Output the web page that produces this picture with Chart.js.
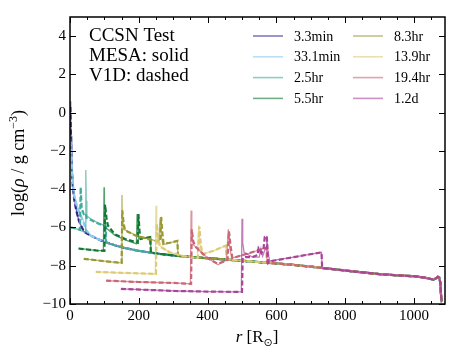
<!DOCTYPE html>
<html><head><meta charset="utf-8">
<script src="https://cdn.jsdelivr.net/npm/chart.js@4"></script>
<style>html,body{margin:0;padding:0;background:#fff}#wrap{width:468px;height:351px}</style>
</head><body><div id="wrap"><canvas id="c" width="468" height="351"></canvas></div>
<script>
// ---------------- data ----------------
const timeLabels = ['3.3min','33.1min','2.5hr','5.5hr','8.3hr','13.9hr','19.4hr','1.2d'];
const xTicks = [0,200,400,600,800,1000];
const yTicks = [-10,-8,-6,-4,-2,0,2,4];

// unshocked envelope (shared outer part of every profile): r [Rsun], log rho
const envR   = [46,60,80,100,130,160,200,250,300,350,400,450,500,550,600,650,700,750,800,850,900,950,1000,1030,1056,1064,1069,1073,1076,1078,1080];
const envRho = [-6.28,-6.42,-6.6,-6.75,-6.93,-7.08,-7.22,-7.36,-7.46,-7.54,-7.61,-7.67,-7.74,-7.81,-7.88,-7.96,-8.05,-8.15,-8.25,-8.35,-8.44,-8.5,-8.55,-8.62,-8.72,-8.66,-8.58,-8.62,-8.85,-9.4,-9.9];

// inner (shocked) parts, [r, log rho]
const mesa_3_3min = [[1,0.6],[2,-0.2],[3,-1.2],[5,-2.6],[8,-3.7],[12,-4.45],[18,-5.05],[25,-5.6],[33,-5.95],[40,-6.2]];
const v1d_3_3min  = [[1,0.3],[2,-0.6],[3,-1.5],[5,-2.8],[8,-3.8],[12,-4.5],[18,-5.1],[26,-5.65],[34,-5.98],[40,-6.2]];
const mesa_33_1min = [[1,-1.3],[3,-1.7],[5,-2.6],[8,-3.5],[12,-4.2],[20,-4.8],[30,-5.3],[38,-5.6],[46,-6.1],[60,-6.4],[75,-6.55]];
const v1d_33_1min  = [[1,-1.5],[3,-1.9],[5,-2.8],[8,-3.7],[12,-4.35],[20,-4.9],[30,-5.35],[38,-5.65],[46,-6.12],[60,-6.42],[75,-6.56]];
const mesa_2_5hr = [[2,-6.0],[15,-6.05],[30,-6.15],[44,-6.25],[46,-3.0],[47,-4.6],[49,-5.4],[60,-5.55],[80,-5.75],[100,-5.9],[104,-5.95],[105,-6.78]];
const v1d_2_5hr  = [[2,-6.0],[15,-6.05],[29,-6.12],[31,-3.9],[34,-5.0],[40,-5.3],[46,-5.25],[48,-5.5],[60,-5.6],[80,-5.78],[100,-5.92],[104,-5.96],[105,-6.78]];
const mesa_5_5hr = [[25,-7.1],[50,-7.15],[75,-7.2],[97,-7.22],[99,-3.9],[100,-5.2],[103,-6.0],[130,-6.4],[160,-6.65],[193,-6.85],[195,-5.3],[197,-6.0],[200,-6.6],[215,-6.55],[233,-6.5],[235,-7.3]];
const v1d_5_5hr  = [[25,-7.1],[50,-7.15],[75,-7.2],[100,-7.22],[102,-4.8],[106,-5.5],[110,-5.9],[130,-6.35],[160,-6.6],[197,-6.8],[199,-5.3],[202,-6.2],[206,-6.6],[220,-6.55],[233,-6.5],[235,-7.3]];
const mesa_8_3hr = [[40,-7.64],[80,-7.72],[120,-7.8],[149,-7.85],[151,-4.3],[152,-5.5],[156,-6.1],[190,-6.4],[230,-6.6],[258,-6.75],[262,-5.5],[265,-6.4],[270,-6.9],[290,-6.8],[312,-6.7],[314,-7.47]];
const v1d_8_3hr  = [[40,-7.64],[80,-7.72],[120,-7.8],[150,-7.85],[152,-5.1],[156,-5.8],[160,-6.15],[190,-6.42],[230,-6.62],[262,-6.75],[265,-5.45],[268,-6.2],[272,-6.85],[290,-6.8],[312,-6.7],[314,-7.47]];
const mesa_13_9hr = [[75,-8.32],[150,-8.37],[200,-8.4],[248,-8.43],[250,-4.86],[252,-6.2],[256,-6.9],[290,-7.3],[330,-7.5],[370,-7.6],[374,-5.9],[378,-6.9],[382,-7.4],[420,-7.2],[453,-6.95],[455,-7.66]];
const v1d_13_9hr  = [[75,-8.32],[150,-8.37],[200,-8.4],[250,-8.43],[252,-5.8],[256,-6.5],[262,-7.0],[290,-7.3],[330,-7.5],[372,-7.6],[376,-5.95],[381,-7.0],[386,-7.4],[420,-7.2],[453,-6.95],[455,-7.66]];
const mesa_19_4hr = [[105,-8.78],[200,-8.85],[300,-8.9],[350,-8.95],[352,-5.12],[354,-6.5],[358,-6.9],[400,-7.6],[430,-7.95],[455,-7.7],[460,-6.1],[464,-7.0],[470,-7.6],[520,-7.35],[571,-7.06],[573,-7.86]];
const v1d_19_4hr  = [[105,-8.78],[200,-8.85],[300,-8.9],[352,-8.95],[354,-6.1],[358,-6.7],[364,-7.0],[400,-7.6],[430,-7.9],[458,-7.7],[462,-6.2],[467,-7.0],[472,-7.6],[520,-7.35],[571,-7.06],[573,-7.86]];
const mesa_1_2d = [[148,-9.21],[250,-9.28],[308,-9.32],[400,-9.35],[498,-9.37],[500,-5.54],[502,-6.8],[506,-7.3],[530,-7.55],[550,-7.55],[555,-7.1],[560,-7.5],[570,-7.0],[572,-6.43],[575,-7.2],[580,-7.75],[650,-7.55],[731,-7.3],[733,-8.13]];
const v1d_1_2d  = [[148,-9.21],[250,-9.28],[308,-9.32],[400,-9.35],[500,-9.37],[502,-7.6],[510,-7.55],[530,-7.55],[545,-7.45],[548,-7.1],[556,-7.35],[562,-7.2],[566,-6.5],[572,-6.45],[576,-7.85],[580,-7.78],[650,-7.55],[731,-7.3],[733,-8.13]];

const mesaProfiles = [mesa_3_3min,mesa_33_1min,mesa_2_5hr,mesa_5_5hr,mesa_8_3hr,mesa_13_9hr,mesa_19_4hr,mesa_1_2d];
const v1dProfiles  = [v1d_3_3min,v1d_33_1min,v1d_2_5hr,v1d_5_5hr,v1d_8_3hr,v1d_13_9hr,v1d_19_4hr,v1d_1_2d];

// ---------------- styles ----------------
const colors = ['#332288','#88CCEE','#44AA99','#117733','#999933','#DDCC77','#CC6677','#AA4499'];
function rgba(hex,a){const n=parseInt(hex.slice(1),16);return `rgba(${n>>16},${(n>>8)&255},${n&255},${a})`;}
const SERIF = '"Liberation Serif","DejaVu Serif",serif';

function fullProfile(inner){
  const pts = inner.map(p=>({x:p[0],y:p[1]}));
  const last = inner[inner.length-1][0];
  envR.forEach((r,i)=>{ if(r>last) pts.push({x:r,y:envRho[i]}); });
  return pts;
}

const datasets = [];
let k = 0;
timeLabels.forEach((lab,i)=>{
  datasets.push({label:lab+' MESA',data:fullProfile(mesaProfiles[i]),borderColor:rgba(colors[i],0.7),borderWidth:1.3,showLine:true,pointRadius:0,tension:0,order:100-(k++)});
  datasets.push({label:lab+' V1D',data:fullProfile(v1dProfiles[i]),borderColor:colors[i],borderWidth:2.2,borderDash:[5,2.5],showLine:true,pointRadius:0,tension:0,order:100-(k++)});
});

const decor = {
  id:'decor',
  afterDatasetsDraw(chart){
    const ctx = chart.ctx, a = chart.chartArea, xs = chart.scales.x, ys = chart.scales.y;
    ctx.save();
    ctx.strokeStyle='#000'; ctx.lineWidth=1.5;
    ctx.strokeRect(a.left, a.top, a.right-a.left, a.bottom-a.top);
    ctx.lineWidth=1;
    ctx.beginPath();
    for(let v=0; v<=1090; v+=50){
      const px = Math.round(xs.getPixelForValue(v))+0.5;
      const L = (v%200===0)?6:3;
      ctx.moveTo(px,a.bottom); ctx.lineTo(px,a.bottom-L);
      ctx.moveTo(px,a.top); ctx.lineTo(px,a.top+L);
    }
    yTicks.forEach(v=>{
      const py = Math.round(ys.getPixelForValue(v))+0.5;
      ctx.moveTo(a.left,py); ctx.lineTo(a.left+6,py);
      ctx.moveTo(a.right,py); ctx.lineTo(a.right-6,py);
    });
    ctx.stroke();

    // annotation text
    ctx.fillStyle='#000';
    ctx.font = '19px '+SERIF;
    ctx.textBaseline='alphabetic'; ctx.textAlign='left';
    ctx.fillText('CCSN Test', 89, 41);
    ctx.fillText('MESA: solid', 89, 61);
    ctx.fillText('V1D: dashed', 89, 81);

    // legend (two columns, column-major)
    ctx.font = '14px '+SERIF;
    ctx.textBaseline='middle';
    timeLabels.forEach((lab,i)=>{
      const col = Math.floor(i/4), row = i%4;
      const x0 = 253 + col*100, y0 = 36 + row*20.8;
      ctx.strokeStyle = rgba(colors[i],0.6); ctx.lineWidth=1.6;
      ctx.beginPath(); ctx.moveTo(x0,y0); ctx.lineTo(x0+30,y0); ctx.stroke();
      ctx.fillText(lab, x0+41, y0+1);
    });

    // x title: r [R_sun]
    ctx.textBaseline='alphabetic';
    const fs = 17;
    const parts = [['italic '+fs+'px '+SERIF,'r',0],[fs+'px '+SERIF,' [R',0],['11px "DejaVu Sans",sans-serif','\u2299',4],[fs+'px '+SERIF,']',0]];
    let tw=0; parts.forEach(p=>{ctx.font=p[0]; tw+=ctx.measureText(p[1]).width;});
    let cx = 257 - tw/2;
    parts.forEach(p=>{ctx.font=p[0]; ctx.fillText(p[1],cx,342+p[2]); cx+=ctx.measureText(p[1]).width;});

    // y title: log(rho / g cm^-3)
    ctx.save();
    ctx.translate(24,163); ctx.rotate(-Math.PI/2);
    const fy = 18;
    const yp = [[fy+'px '+SERIF,'log(',0],['italic '+fy+'px '+SERIF,'\u03C1',0],[fy+'px '+SERIF,' / g cm',0],['12px '+SERIF,'\u22123',-7],[fy+'px '+SERIF,')',0]];
    tw=0; yp.forEach(p=>{ctx.font=p[0]; tw+=ctx.measureText(p[1]).width;});
    cx = -tw/2;
    yp.forEach(p=>{ctx.font=p[0]; ctx.fillText(p[1],cx,p[2]); cx+=ctx.measureText(p[1]).width;});
    ctx.restore();
    ctx.restore();
  }
};

new Chart(document.getElementById('c'), {
  type:'scatter',
  data:{datasets},
  options:{
    responsive:false, animation:false, devicePixelRatio:1,
    layout:{padding:{left:0,right:23,top:17,bottom:0}},
    plugins:{legend:{display:false},tooltip:{enabled:false}},
    scales:{
      x:{type:'linear',position:'bottom',min:0,max:1090,
         grid:{display:false,drawTicks:false},border:{display:false},
         afterBuildTicks:s=>{s.ticks=xTicks.map(v=>({value:v}));},
         afterFit:s=>{s.height=47;},
         ticks:{color:'#000',font:{family:SERIF,size:15},padding:3,maxRotation:0,autoSkip:false,
                callback:v=>String(v)}},
      y:{type:'linear',position:'left',min:-10,max:5,
         grid:{display:false,drawTicks:false},border:{display:false},
         afterBuildTicks:s=>{s.ticks=yTicks.map(v=>({value:v}));},
         afterFit:s=>{s.width=70;},
         ticks:{color:'#000',font:{family:SERIF,size:15},padding:4,autoSkip:false,
                callback:v=>String(v).replace('-','\u2212')}}
    }
  },
  plugins:[decor]
});
</script></body></html>
